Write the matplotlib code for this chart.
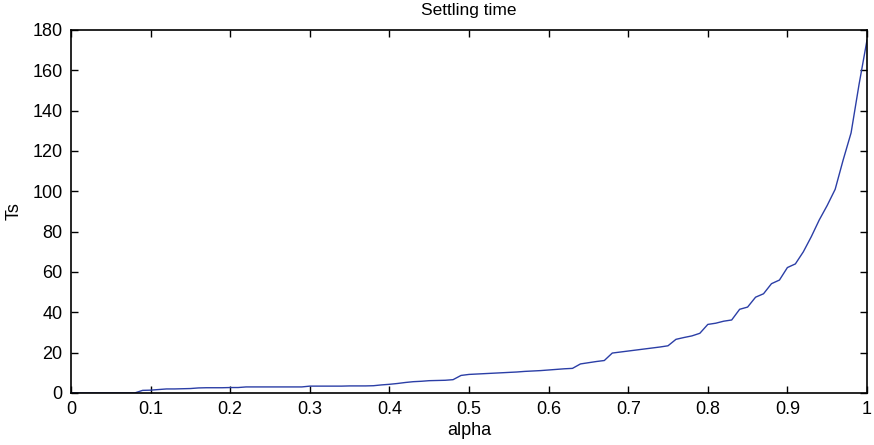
import numpy as np
import matplotlib
matplotlib.use("Agg")
import matplotlib.pyplot as plt

plt.rcParams['font.family'] = ['Liberation Sans', 'DejaVu Sans']

# damping factor sweep and the resulting settling time
alpha = [round(i * 0.01, 2) for i in range(101)]
ts = [
    0, 0, 0, 0, 0, 0, 0, 0, 0, 1.3,            # 0.00 - 0.09
    1.4, 1.7, 2.0, 2.0, 2.1, 2.2, 2.5, 2.6, 2.6, 2.6,   # 0.10 - 0.19
    2.7, 2.7, 3.0, 3.0, 3.0, 3.0, 3.0, 3.0, 3.0, 3.0,   # 0.20 - 0.29
    3.4, 3.4, 3.4, 3.4, 3.4, 3.5, 3.5, 3.5, 3.6, 4.0,   # 0.30 - 0.39
    4.3, 4.7, 5.2, 5.6, 5.8, 6.1, 6.2, 6.3, 6.6, 8.7,   # 0.40 - 0.49
    9.2, 9.4, 9.6, 9.8, 10.0, 10.2, 10.4, 10.7, 10.9, 11.1,  # 0.50 - 0.59
    11.4, 11.7, 12.0, 12.2, 14.4, 15.0, 15.6, 16.1, 19.8, 20.3,  # 0.60 - 0.69
    20.8, 21.3, 21.8, 22.3, 22.8, 23.4, 26.6, 27.5, 28.3, 29.6,  # 0.70 - 0.79
    34.0, 34.6, 35.6, 36.2, 41.5, 42.6, 47.5, 49.2, 54.2, 56.0,  # 0.80 - 0.89
    62.2, 64.0, 70.0, 77.5, 85.8, 93.0, 101.0, 115.5, 129.0, 153.0,  # 0.90 - 0.99
    175.0,                                       # 1.00
]
x_ticks = [0, 0.1, 0.2, 0.3, 0.4, 0.5, 0.6, 0.7, 0.8, 0.9, 1]
x_tick_labels = ['0', '0.1', '0.2', '0.3', '0.4', '0.5', '0.6', '0.7', '0.8', '0.9', '1']
y_ticks = [0, 20, 40, 60, 80, 100, 120, 140, 160, 180]

fig = plt.figure(figsize=(8.74, 4.45), dpi=100)
ax = fig.add_axes([0.0812, 0.1169, 0.9108, 0.8157])

ax.plot(alpha, ts, color='#2b3ea6', linewidth=1.0)

ax.set_xlim(0, 1)
ax.set_ylim(0, 180)
ax.set_xticks(x_ticks)
ax.set_xticklabels(x_tick_labels)
ax.set_yticks(y_ticks)

ax.tick_params(direction='in', length=5, width=1, top=True, right=True,
               labelsize=13, pad=6, colors='black')
for s in ax.spines.values():
    s.set_linewidth(1.2)

ax.set_title('Settling time', fontsize=12.5, pad=11)
ax.set_xlabel('alpha', fontsize=13, labelpad=3)
ax.set_ylabel('Ts', fontsize=13, labelpad=7)

fig.savefig('out.png', dpi=100)
